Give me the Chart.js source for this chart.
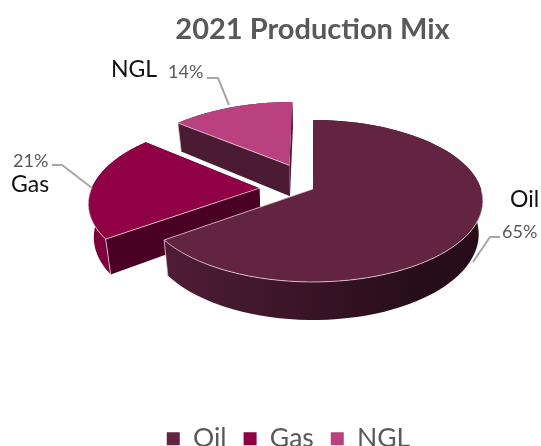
<!DOCTYPE html>
<html>
<head>
<meta charset="utf-8">
<style>
	html, body { margin: 0; padding: 0; background: #fff; }
	#wrap { width: 541px; height: 446px; }
</style>
<script src="https://cdn.jsdelivr.net/npm/chart.js@4"></script>
</head>
<body>
<div id="wrap"><canvas id="chart"></canvas></div>
<script>
const categories = ['Oil', 'Gas', 'NGL'];
const shares = [65, 21, 14];
const explode = [0, 0.32, 0.345];

const topColors = ['#622440', '#8f0045', '#b9417f'];
const cutColors = ['#4a1a32', '#4a0024', '#4b1a33'];
const wallColors = [['#501d36', '#260d19'], ['#7d003d', '#7d003d'], ['#4b1a33', '#4b1a33']];

// perspective of the tilted pie
const view = { cx: 313, cy: 189, sx: 168, sy: 79.2, k: 0.148, depth: 32.4, shrink: 1.025 };

const callouts = [
	{ name: [510, 200], pct: [502, 232], line: [[500, 237], [490, 237], [473, 262]] },
	{ name: [11, 185], pct: [13, 161], line: [[52, 165], [62, 165], [92, 188]] },
	{ name: [111, 70], pct: [168, 72], line: [[207, 78], [218, 78], [229, 105]] },
];

function project(u, v, bottom) {
	const w = 1 - view.k * v;
	return {
		x: view.cx + (view.sx * u) / (w * (bottom ? view.shrink : 1)),
		y: view.cy + (view.sy * v + (bottom ? view.depth : 0)) / w,
	};
}

function apex(el, offset, bottom) {
	const mid = (el.startAngle + el.endAngle) / 2;
	return project(offset * Math.cos(mid), offset * Math.sin(mid), bottom);
}

function rim(el, offset, angle, bottom) {
	const mid = (el.startAngle + el.endAngle) / 2;
	return project(offset * Math.cos(mid) + Math.cos(angle), offset * Math.sin(mid) + Math.sin(angle), bottom);
}

function poly(ctx, pts) {
	ctx.beginPath();
	pts.forEach((p, i) => (i ? ctx.lineTo(p.x, p.y) : ctx.moveTo(p.x, p.y)));
}

function arcPoints(el, offset, bottom, from, to) {
	const out = [];
	const steps = 80;
	for (let i = 0; i <= steps; i++) {
		out.push(rim(el, offset, from + ((to - from) * i) / steps, bottom));
	}
	return out;
}

function drawSlice(ctx, el, i) {
	const off = explode[i];
	const { startAngle: a0, endAngle: a1 } = el;
	const top = arcPoints(el, off, false, a0, a1);
	const low = arcPoints(el, off, true, a0, a1);
	const c = apex(el, off, false);
	const cLow = apex(el, off, true);

	// cut faces
	ctx.fillStyle = cutColors[i];
	poly(ctx, [c, top[0], low[0], cLow]);
	ctx.fill();
	poly(ctx, [c, top[top.length - 1], low[low.length - 1], cLow]);
	ctx.fill();

	// outer wall
	const xs = top.map((p) => p.x);
	const grad = ctx.createLinearGradient(Math.min(...xs), 0, Math.min(...xs) + 260, 0);
	grad.addColorStop(0, wallColors[i][0]);
	grad.addColorStop(1, wallColors[i][1]);
	ctx.fillStyle = grad;
	poly(ctx, top.concat(low.slice().reverse()));
	ctx.fill();

	// top face
	ctx.fillStyle = topColors[i];
	poly(ctx, [c].concat(top));
	ctx.closePath();
	ctx.fill();

	// light bevel on the edges that face the viewer
	ctx.strokeStyle = 'rgba(255, 232, 242, 0.7)';
	ctx.lineWidth = 1;
	const edge = i === 0 ? a1 : a0;
	poly(ctx, [c, rim(el, off, edge, false), rim(el, off, edge, true)]);
	ctx.stroke();
	const front = [];
	for (let n = 0; n <= 80; n++) {
		const a = a0 + ((a1 - a0) * n) / 80;
		if (Math.sin(a) > -0.02) front.push(rim(el, off, a, false));
	}
	if (front.length) {
		poly(ctx, front);
		ctx.stroke();
	}
}

const pie3d = {
	id: 'pie3d',
	afterLayout(chart) {
		// title sits further right than the legend
		chart.titleBlock.left += 48;
	},
	beforeDatasetDraw(chart, args) {
		const ctx = chart.ctx;
		const arcs = chart.getDatasetMeta(args.index).data;
		for (let i = arcs.length - 1; i >= 0; i--) {
			drawSlice(ctx, arcs[i], i);
		}
		return false;
	},
	afterDraw(chart) {
		const ctx = chart.ctx;
		ctx.save();
		ctx.textBaseline = 'middle';
		ctx.textAlign = 'left';
		callouts.forEach((c, i) => {
			ctx.strokeStyle = '#a6a6a6';
			ctx.lineWidth = 2;
			ctx.beginPath();
			c.line.forEach((p, n) => (n ? ctx.lineTo(p[0], p[1]) : ctx.moveTo(p[0], p[1])));
			ctx.stroke();
			ctx.fillStyle = '#595959';
			ctx.font = '18px Lato';
			ctx.fillText(shares[i] + '%', c.pct[0], c.pct[1]);
			ctx.fillStyle = '#111';
			ctx.font = '23px Lato';
			ctx.fillText(categories[i], c.name[0], c.name[1]);
		});
		ctx.restore();
	},
};

new Chart(document.getElementById('chart'), {
	type: 'pie',
	data: {
		labels: categories,
		datasets: [{ data: shares, backgroundColor: topColors, borderWidth: 0 }],
	},
	options: {
		responsive: true,
		maintainAspectRatio: false,
		animation: false,
		layout: { padding: { left: 36, bottom: -16 } },
		plugins: {
			tooltip: { enabled: false },
			title: {
				display: true,
				text: '2021 Production Mix',
				color: '#595959',
				font: { family: 'Lato', size: 29, weight: 'bold' },
				padding: { top: 12, bottom: 10 },
			},
			legend: {
				position: 'bottom',
				labels: {
					color: '#595959',
					font: { family: 'Lato', size: 26.5 },
					boxWidth: 13,
					boxHeight: 13,
					padding: 17,
				},
			},
		},
	},
	plugins: [pie3d],
});
</script>
</body>
</html>
